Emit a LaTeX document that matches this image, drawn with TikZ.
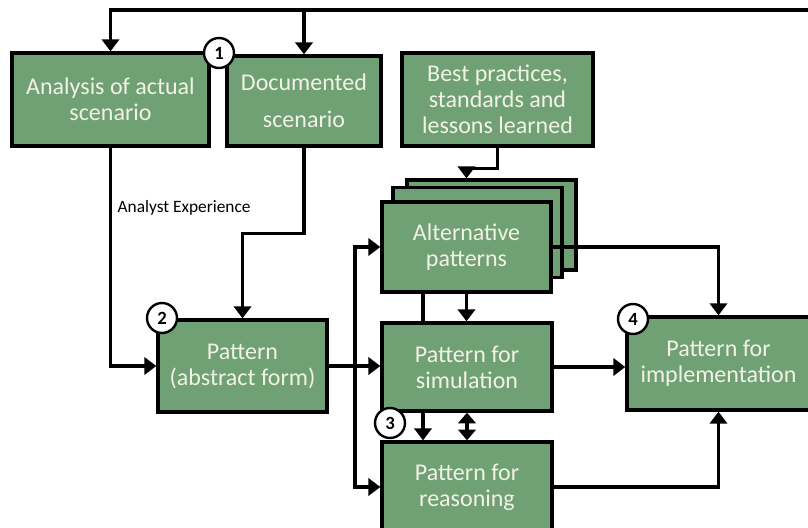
\documentclass[tikz,border=0pt]{standalone}
\usepackage{fontspec}
\setmainfont{Carlito}
\usepackage{tikz}
\usetikzlibrary{arrows.meta, positioning, backgrounds}
\definecolor{boxgreen}{RGB}{112,161,117}
\definecolor{boxtext}{RGB}{242,242,228}
\tikzstyle{process} = [rectangle, inner sep=0pt, text centered, align=center, draw=black, line width=2.5pt, fill=boxgreen, text=boxtext, font=\fontsize{18}{19.5}\selectfont]
\tikzstyle{arrow} = [line width=2.5pt, -{Triangle[width=13pt,length=9pt]}]
\tikzstyle{twoway} = [line width=2.5pt, {Triangle[width=13pt,length=8pt]}-{Triangle[width=13pt,length=8pt]}]
\tikzstyle{stepmark} = [circle, draw=black, fill=white, line width=1.8pt, minimum size=22.5pt, inner sep=0pt, font=\bfseries\fontsize{14}{14}\selectfont]

\begin{document}
\begin{tikzpicture}[x=0.75pt, y=-0.75pt]
\useasboundingbox (0,0) rectangle (808,528);
\clip (0,0) rectangle (808,528);
% upper row
\node (actual) [process, minimum width=147.8pt, minimum height=69.8pt] at (110.5,99.5) {Analysis of actual\\scenario};
\node (documented) [process, minimum width=115.5pt, minimum height=67.5pt] at (304,101) {Documented\\[8pt]scenario};
\node (best) [process, minimum width=143.3pt, minimum height=69.8pt] at (497.5,99.5) {Best practices,\\standards and\\lessons learned};
% stack of alternatives
\node (altback) [process, minimum width=126.8pt, minimum height=67.5pt] at (491.5,225) {};
\node (altmid) [process, minimum width=126.8pt, minimum height=67.5pt] at (477.5,232.5) {};
\node (alt) [process, minimum width=126.8pt, minimum height=67.5pt] at (466.5,247) {Alternative\\patterns};
% patterns
\node (abstract) [process, minimum width=126.8pt, minimum height=69pt] at (242.5,366) {Pattern\\(abstract form)};
\node (sim) [process, minimum width=127.5pt, minimum height=66pt] at (467,367) {Pattern for\\simulation};
\node (reason) [process, minimum width=127.5pt, minimum height=67.5pt] at (467,487) {Pattern for\\reasoning};
\node (impl) [process, minimum width=137.3pt, minimum height=69.8pt] at (718.5,363.5) {Pattern for\\implementation};
\node (exp) [anchor=west, font=\fontsize{13}{13}\selectfont] at (113,208) {Analyst Experience};
\coordinate (feedback) at (830,10);
\coordinate (split) at (355,366);

% connectors
\draw [arrow] (feedback) -| (actual.north);
\draw [arrow] (documented.north |- feedback) -- (documented.north);
\draw [arrow] (actual.south) |- (abstract.west);
\draw [arrow] (documented.south) -- ++(0,86) -| (abstract.north);
\draw [arrow] (best.south) -- ++(0,21) -| (alt.center |- altback.north);
\draw [line width=2.5pt] (abstract.east) -- (split);
\draw [arrow] (split) -- (sim.west |- split);
\draw [arrow] (split) |- (alt.west);
\draw [arrow] (split) |- (reason.west);
\draw [arrow] (alt.south) -- (alt.south |- sim.north);
\begin{scope}[on background layer]
\draw [arrow] (alt.south -| 423,0) -- (reason.north -| 423,0);
\end{scope}
\draw [twoway] (sim.south) -- (reason.north);
\draw [arrow] (sim.east) -- (impl.west |- sim.east);
\draw [arrow] (alt.east) -| (impl.north);
\draw [arrow] (reason.east) -| (impl.south);

% step numbers
\node (one) [stepmark] at (219,53) {1};
\node (two) [stepmark] at (162,318) {2};
\node (three) [stepmark] at (390,423) {3};
\node (four) [stepmark] at (633,319) {4};
\end{tikzpicture}
\end{document}
